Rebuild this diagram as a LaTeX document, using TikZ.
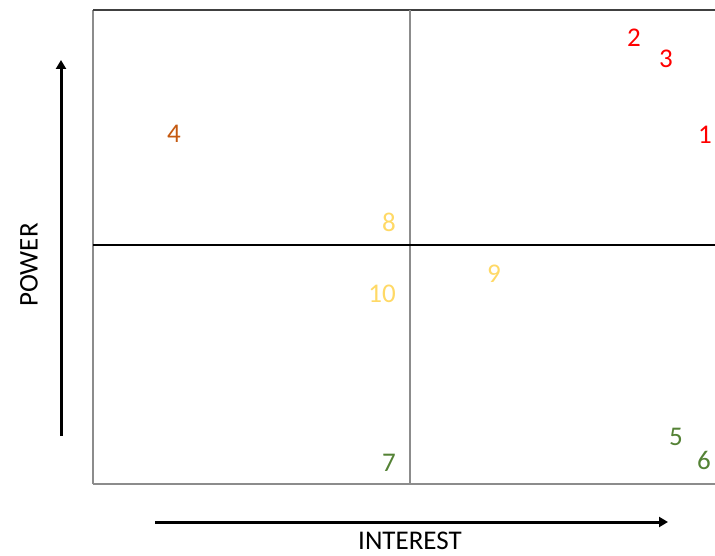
\documentclass[tikz,border=0pt]{standalone}
\usepackage{fontspec}
\setmainfont{Carlito}
\usetikzlibrary{arrows.meta, positioning}
\definecolor{hired}{HTML}{FF0000}
\definecolor{midorange}{HTML}{C55A11}
\definecolor{keepyellow}{HTML}{FFD966}
\definecolor{lowgreen}{HTML}{548235}

\begin{document}
\begin{tikzpicture}[
        x=1pt, y=-1pt,
        font=\fontsize{27}{30}\selectfont,
        stake/.style={inner sep=0pt, anchor=center},
        grid/.style={draw=black!45, line width=2pt},
        axis/.style={draw=black, line width=3pt, -{Triangle[length=9pt, width=10pt]}},
        ]
        \useasboundingbox (0,0) rectangle (715,556);
        \clip (0,0) rectangle (715,556);
        % quadrant frame
        \draw[grid] (93,484) -- (93,10);
        \draw[draw=black!75, line width=2pt] (93,10) -- (730,10);
        \draw[grid] (93,484) -- (730,484);
        \draw[grid] (410,10) -- (410,484);
        \draw[draw=black, line width=1.2pt] (93,245) -- (730,245);
        % axes
        \coordinate (pw0) at (61,436);
        \coordinate (pw1) at (61,60);
        \coordinate (in0) at (155,522);
        \coordinate (in1) at (668,522);
        \draw[axis] (pw0) -- (pw1);
        \draw[axis] (in0) -- (in1);
        \node[stake, rotate=90] (power) at (29,265) {POWER};
        \node[stake, anchor=base] (interest) at (410,549) {INTEREST};
        % stakeholders
        \node[stake, text=hired] (s1) at (705,135) {1};
        \node[stake, text=hired] (s2) at (634,38) {2};
        \node[stake, text=hired] (s3) at (666,59) {3};
        \node[stake, text=midorange] (s4) at (174,134) {4};
        \node[stake, text=lowgreen] (s5) at (676,437) {5};
        \node[stake, text=lowgreen] (s6) at (704,460) {6};
        \node[stake, text=lowgreen] (s7) at (389,463) {7};
        \node[stake, text=keepyellow] (s8) at (389,222) {8};
        \node[stake, text=keepyellow] (s9) at (494,274) {9};
        \node[stake, text=keepyellow] (s10) at (382,294) {10};
    \end{tikzpicture}
\end{document}
